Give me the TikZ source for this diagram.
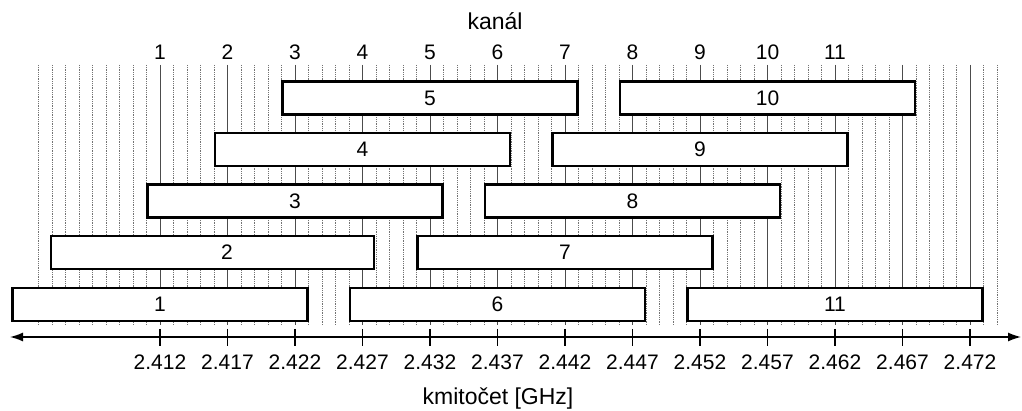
\documentclass[tikz,border=0pt]{standalone}
\usepackage{fontspec}
\setmainfont{Liberation Sans}
\usetikzlibrary{arrows.meta}
\begin{document}
\begin{tikzpicture}[x=1pt,y=-1pt,
  txt/.style={font=\fontsize{21}{25}\selectfont, inner sep=0pt},
  title/.style={font=\fontsize{23}{27}\selectfont, inner sep=0pt},
  chanbox/.style={draw, line width=2.6pt, minimum width=295pt, minimum height=33pt,
    inner sep=0pt, fill=white, font=\fontsize{21}{25}\selectfont},
  finegrid/.style={densely dotted, line width=0.8pt, black!55},
  maingrid/.style={line width=0.8pt, black!70},
  tickmark/.style={line width=1.4pt}]
\useasboundingbox (0,0) rectangle (1022,411);

% 1 MHz grid behind the channel bands
\foreach \i in {-9,...,62} {
  \pgfmathsetmacro\gx{160+13.5*\i}
  \coordinate (gt\i) at (\gx,65);
  \coordinate (gb\i) at (\gx,325);
  \draw[finegrid] (gt\i) -- (gb\i);
}
% channel centre lines
\foreach \k in {0,...,12} {
  \pgfmathsetmacro\cx{160+67.5*\k}
  \coordinate (ct\k) at (\cx,65);
  \coordinate (cb\k) at (\cx,325);
  \draw[maingrid] (ct\k) -- (cb\k);
}

% titles
\node[title] (kanal) at (495,21) {kanál};
\node[title] (kmit) at (498,399) {kmitočet [GHz]};

% channel numbers
\foreach \k in {1,...,11} {
  \node[txt] (n\k) at ({160+67.5*(\k-1)},52) {\k};
}

% 22 MHz channel bands, staggered in five rows
\foreach \k/\ry in {1/304.5, 6/304.5, 11/304.5,
                    7/252.5,
                    3/201, 8/201,
                    4/149.5, 9/149.5,
                    5/98, 10/98} {
  \node[chanbox] (b\k) at ({160+67.5*(\k-1)},\ry) {\k};
}
% band 2 is drawn wider towards the left
\node[chanbox, minimum width=323pt] (b2) at (212.5,252.5) {};
\node[txt] (b2lbl) at (227,252.5) {2};

% frequency axis
\coordinate (axL) at (10,337);
\coordinate (axR) at (1021,337);
\draw[line width=1.4pt, {Latex[length=13pt,width=9pt]}-{Latex[length=13pt,width=9pt]}] (axL) -- (axR);

\foreach \k/\f in {0/2.412, 1/2.417, 2/2.422, 3/2.427, 4/2.432, 5/2.437, 6/2.442,
                   7/2.447, 8/2.452, 9/2.457, 10/2.462, 11/2.467, 12/2.472} {
  \coordinate (tt\k) at ({160+67.5*\k},329);
  \coordinate (tb\k) at ({160+67.5*\k},346);
  \draw[tickmark] (tt\k) -- (tb\k);
  \node[txt] (f\k) at ({160+67.5*\k},362) {\f};
}
\end{tikzpicture}
\end{document}
